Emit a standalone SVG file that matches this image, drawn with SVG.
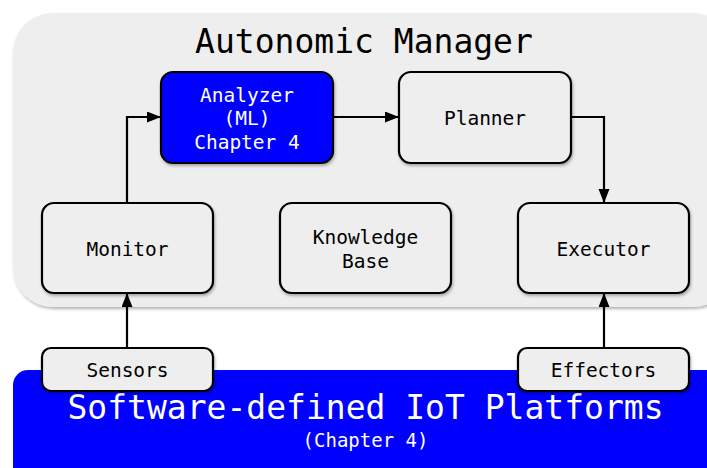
<svg xmlns="http://www.w3.org/2000/svg" width="707" height="468" viewBox="0 0 707 468">
  <style>
    text { font-family: "DejaVu Sans Mono", "Liberation Mono", monospace; text-anchor: middle; }
    .box { fill: #eeeeee; stroke: #000000; stroke-width: 2.2; }
    .blue { fill: #0000ff; stroke: #000000; stroke-width: 2.2; }
    .lbl { font-size: 19.5px; fill: #000000; }
    .wlbl { font-size: 19.5px; fill: #ffffff; }
    .conn { fill: none; stroke: #000000; stroke-width: 2.2; }
  </style>
  <defs>
    <filter id="sh" x="-10%" y="-10%" width="125%" height="130%">
      <feDropShadow dx="1" dy="2" stdDeviation="1.5" flood-color="#000000" flood-opacity="0.3"/>
    </filter>
    <marker id="arr" markerWidth="14" markerHeight="12" refX="13" refY="5.5" orient="auto" markerUnits="userSpaceOnUse">
      <path d="M0,0 L14,5.5 L0,11 Z" fill="#000000"/>
    </marker>
  </defs>

  <g id="manager">
    <rect x="13" y="13" width="720" height="294" rx="40" fill="#eeeeee" filter="url(#sh)"/>
    <text x="364" y="53" font-size="33" fill="#000000">Autonomic Manager</text>
  </g>

  <g id="platform">
    <rect x="13" y="370" width="720" height="120" rx="15" fill="#0000ff"/>
    <text x="365.5" y="419" font-size="33" fill="#ffffff">Software-defined IoT Platforms</text>
    <text x="365.5" y="447" font-size="19" fill="#ffffff">(Chapter 4)</text>
  </g>

  <g id="connectors">
    <path class="conn" d="M127,203 L127,117 L160,117" marker-end="url(#arr)"/>
    <path class="conn" d="M333,117 L398,117" marker-end="url(#arr)"/>
    <path class="conn" d="M571,117 L604,117 L604,202" marker-end="url(#arr)"/>
    <path class="conn" d="M127,348 L127,294" marker-end="url(#arr)"/>
    <path class="conn" d="M604,348 L604,294" marker-end="url(#arr)"/>
  </g>

  <g id="analyzer">
    <rect class="blue" x="161" y="72" width="172" height="91" rx="12" filter="url(#sh)"/>
    <text class="wlbl" x="247" y="101.5">Analyzer</text>
    <text class="wlbl" x="247" y="125">(ML)</text>
    <text class="wlbl" x="247" y="148.5">Chapter 4</text>
  </g>

  <g id="planner">
    <rect class="box" x="399" y="72" width="172" height="91" rx="12" filter="url(#sh)"/>
    <text class="lbl" x="485" y="125">Planner</text>
  </g>

  <g id="monitor">
    <rect class="box" x="42" y="203" width="171" height="90" rx="12" filter="url(#sh)"/>
    <text class="lbl" x="127.5" y="256">Monitor</text>
  </g>

  <g id="knowledge">
    <rect class="box" x="280" y="203" width="171" height="90" rx="12" filter="url(#sh)"/>
    <text class="lbl" x="365.5" y="244">Knowledge</text>
    <text class="lbl" x="365.5" y="267.5">Base</text>
  </g>

  <g id="executor">
    <rect class="box" x="518" y="203" width="171" height="90" rx="12" filter="url(#sh)"/>
    <text class="lbl" x="603.5" y="256">Executor</text>
  </g>

  <g id="sensors">
    <rect class="box" x="42" y="348" width="171" height="43" rx="9" filter="url(#sh)"/>
    <text class="lbl" x="127.5" y="377">Sensors</text>
  </g>

  <g id="effectors">
    <rect class="box" x="518" y="348" width="171" height="43" rx="9" filter="url(#sh)"/>
    <text class="lbl" x="603.5" y="377">Effectors</text>
  </g>
</svg>
